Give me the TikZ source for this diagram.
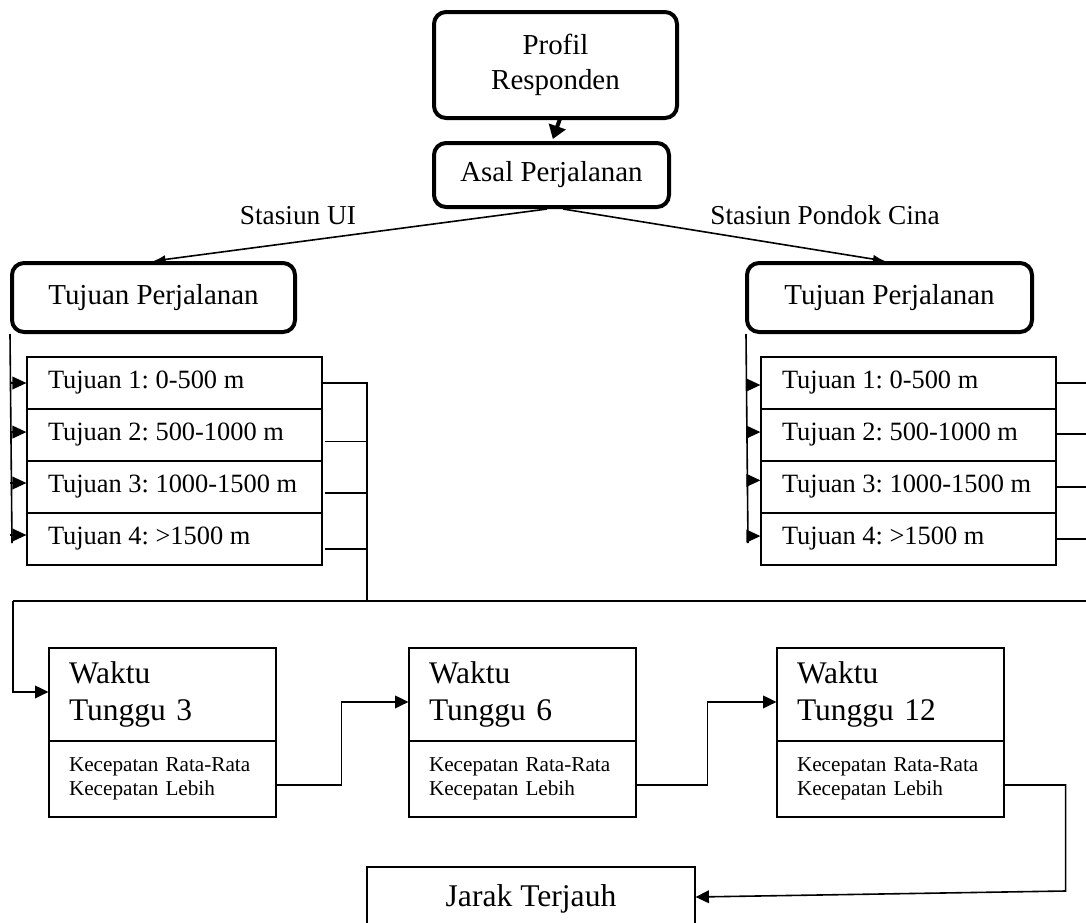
\documentclass[tikz,border=0pt]{standalone}
\usepackage{fontspec}
\setmainfont{Liberation Serif}
\usetikzlibrary{arrows.meta,calc}
\newcommand{\rowtxt}[1]{\makebox[189.75pt][l]{#1}}
\begin{document}
\frenchspacing
\begin{tikzpicture}[x=0.75pt,y=-0.75pt,
  rbox/.style={draw,line width=3pt,rounded corners=9pt,align=center,inner sep=0pt},
  sbox/.style={draw,line width=0.9pt,inner sep=0pt},
  bigtxt/.style={font=\fontsize{21.7}{26}\selectfont},
  rowbox/.style={sbox,minimum width=221.25pt,minimum height=39pt,inner xsep=15.75pt,font=\fontsize{19.8}{24}\selectfont},
  wtop/.style={sbox,minimum width=170.25pt,text width=140.25pt,inner xsep=15pt,minimum height=69.75pt,align=left,font=\fontsize{23.6}{28}\selectfont},
  wbot/.style={sbox,minimum width=170.25pt,text width=140.25pt,inner xsep=15pt,minimum height=57pt,align=left,font=\fontsize{15.9}{18}\selectfont},
  conn/.style={line width=1.2pt},
  arr/.style={conn,-{Latex[length=9pt,width=6.5pt]}},
  tri/.style={conn,-{Triangle[length=10.5pt,width=9.5pt]}},
  tri2/.style={conn,-{Triangle[length=10pt,width=9.5pt]}},
  lbl/.style={font=\fontsize{20.5}{24}\selectfont}
]
\clip (0,0) rectangle (1086,922);

% top
\node[rbox,bigtxt,minimum width=182.25pt,minimum height=79.5pt] (prof) at (555.5,65) {Profil\\Responden};
\node[rbox,bigtxt,minimum width=176.25pt,minimum height=48pt] (asal) at (551.5,175) {Asal Perjalanan};
\node[rbox,bigtxt,minimum width=212.25pt,minimum height=51.75pt] (tl) at (153.5,297.5) {Tujuan Perjalanan};
\node[rbox,bigtxt,minimum width=213.75pt,minimum height=51.75pt] (tr) at (889.5,297.5) {Tujuan Perjalanan};

\draw[line width=3pt,-{Triangle[length=10pt,width=13pt]}] ([xshift=3.4pt,yshift=1pt]prof.south) -- ([xshift=1pt,yshift=1.5pt]asal.north);
\draw[arr] ([xshift=-3.4pt]asal.south) -- (tl.north);
\draw[arr] ([xshift=8.6pt]asal.south) -- ([xshift=-3.4pt]tr.north);
\node[lbl] (lblui) at (298,216) {Stasiun UI};
\node[lbl] (lblpc) at (825,215) {Stasiun Pondok Cina};

% left list
\node[rowbox] (l1) at (174.5,383) {\rowtxt{Tujuan 1: 0-500 m}};
\node[rowbox] (l2) at (174.5,435) {\rowtxt{Tujuan 2: 500-1000 m}};
\node[rowbox] (l3) at (174.5,487) {\rowtxt{Tujuan 3: 1000-1500 m}};
\node[rowbox] (l4) at (174.5,539) {\rowtxt{Tujuan 4: >1500 m}};
% right list
\node[rowbox] (r1) at (908.5,383) {\rowtxt{Tujuan 1: 0-500 m}};
\node[rowbox] (r2) at (908.5,435) {\rowtxt{Tujuan 2: 500-1000 m}};
\node[rowbox] (r3) at (908.5,487) {\rowtxt{Tujuan 3: 1000-1500 m}};
\node[rowbox] (r4) at (908.5,539) {\rowtxt{Tujuan 4: >1500 m}};

% left feeders
\coordinate (lvend) at (12,543);
\draw[conn] (tl.south west) -- (lvend);
\draw[tri] (l1.west -| tl.west) -- (l1.west);
\draw[tri] ([yshift=2.2pt]l2.west -| tl.west) -- ([yshift=2.2pt]l2.west);
\draw[tri] ([yshift=3pt]l3.west -| tl.west) -- ([yshift=3pt]l3.west);
\draw[tri] ([yshift=3pt]l4.west -| tl.west) -- ([yshift=3pt]l4.west);

% right feeders
\coordinate (rvend) at (748,543);
\draw[conn] ([xshift=0.75pt]tr.south west) -- (rvend);
\draw[tri] ([yshift=-1.5pt]r1.west -| rvend) -- ([yshift=-1.5pt]r1.west);
\draw[tri] ([yshift=2.2pt]r2.west -| rvend) -- ([yshift=2.2pt]r2.west);
\draw[tri] ([yshift=5pt]r3.west -| rvend) -- ([yshift=5pt]r3.west);
\draw[tri] ([yshift=2.2pt]r4.west -| rvend) -- ([yshift=2.2pt]r4.west);

% bus
\coordinate (jn) at (367,601);
\coordinate (busL) at (13,601);
\coordinate (busR) at (1086,601);
\draw[conn] (l1.east) -- (l1.east -| jn) -- (jn);
\draw[conn] ([xshift=2pt,yshift=-5pt]l2.east) -- ([yshift=-5pt]l2.east -| jn);
\draw[conn] ([xshift=2pt,yshift=-4.5pt]l3.east) -- ([yshift=-4.5pt]l3.east -| jn);
\draw[conn] ([xshift=2pt,yshift=-7.5pt]l4.east) -- ([yshift=-7.5pt]l4.east -| jn);
\draw[conn] (busR) -- (busL);

\draw[conn] (r1.east) -- (r1.east -| busR);
\draw[conn] ([yshift=0.75pt]r2.east) -- ([yshift=0.75pt]r2.east -| busR);
\draw[conn] (r3.east) -- (r3.east -| busR);
\draw[conn] (r4.east) -- (r4.east -| busR);

% Waktu boxes
\node[wtop] (w3a) at (162.5,694.5) {Waktu\\Tunggu 3};
\node[wbot] (w3b) at (162.5,779) {Kecepatan Rata-Rata\\Kecepatan Lebih};
\node[wtop] (w6a) at (522.5,694.5) {Waktu\\Tunggu 6};
\node[wbot] (w6b) at (522.5,779) {Kecepatan Rata-Rata\\Kecepatan Lebih};
\node[wtop] (w12a) at (890.5,694.5) {Waktu\\Tunggu 12};
\node[wbot] (w12b) at (890.5,779) {Kecepatan Rata-Rata\\Kecepatan Lebih};

\node[sbox,minimum width=246pt,minimum height=48pt,font=\fontsize{23.7}{28}\selectfont] (jarak) at (531,899) {Jarak Terjauh};

\draw[tri2] (busL) |- ([yshift=1.9pt]w3a.west);
\draw[tri2] ([yshift=-4.5pt]w3b.east) -- ++(65,0) |- ([yshift=-5.6pt]w6a.west);
\draw[tri2] ([yshift=-4.5pt]w6b.east) -- ++(71,0) |- ([yshift=-5.6pt]w12a.west);
\draw[tri2] ([yshift=-4.5pt]w12b.east) -- ++(61,0) -- ++(0,106) -- ([yshift=1.5pt]jarak.east);
\end{tikzpicture}
\end{document}
